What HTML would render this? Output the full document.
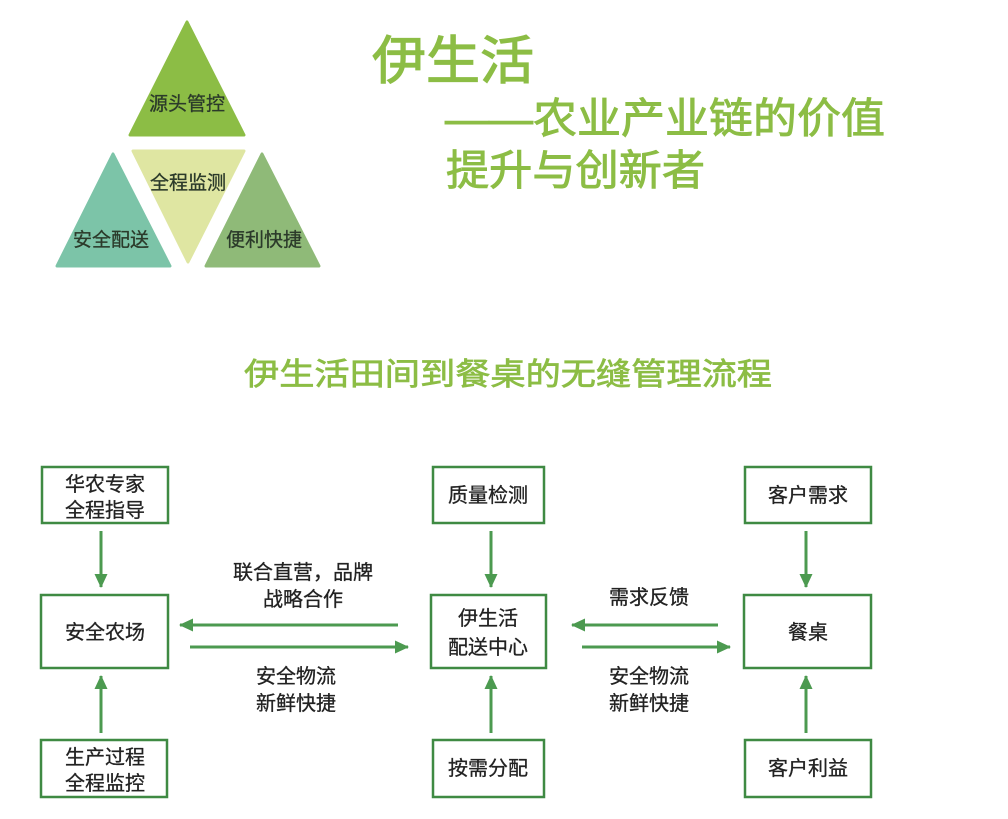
<!DOCTYPE html>
<html><head><meta charset="utf-8"><style>
html,body{margin:0;padding:0;background:#fff;}
svg{display:block;}
text{font-family:"Liberation Sans","Noto Sans CJK SC",sans-serif;}
</style></head><body>
<svg width="1008" height="819" viewBox="0 0 1008 819" xmlns="http://www.w3.org/2000/svg">
<defs>
<marker id="ah" markerWidth="14" markerHeight="14" refX="13" refY="7" orient="auto" markerUnits="userSpaceOnUse" viewBox="0 0 14 14">
<path d="M0,0.5 L14,7 L0,13.5 z" fill="#4c9a50"/></marker>
</defs>
<polygon points="187,22 244,135 130,135" fill="#8cbd45" stroke="#8cbd45" stroke-width="3" stroke-linejoin="round"/>
<polygon points="133,151 244,151 188,262" fill="#dfe6a2" stroke="#dfe6a2" stroke-width="3" stroke-linejoin="round"/>
<polygon points="113,154 170,266 57,266" fill="#7cc4a8" stroke="#7cc4a8" stroke-width="3" stroke-linejoin="round"/>
<polygon points="262,154 319,266 206,266" fill="#8fba78" stroke="#8fba78" stroke-width="3" stroke-linejoin="round"/>
<g font-size="19" fill="#2b3a2a" stroke="#2b3a2a" stroke-width="0.3">
<text x="187" y="110" text-anchor="middle">源头管控</text>
<text x="188" y="189" text-anchor="middle">全程监测</text>
<text x="111" y="246" text-anchor="middle">安全配送</text>
<text x="264" y="246" text-anchor="middle">便利快捷</text>
</g>
<g fill="#8cbd45" stroke="#8cbd45">
<text x="372" y="79" font-size="52" stroke-width="1.2" textLength="162" lengthAdjust="spacingAndGlyphs">伊生活</text>
<text x="445" y="133" font-size="42" stroke-width="0.9" textLength="440" lengthAdjust="spacingAndGlyphs">——农业产业链的价值</text>
<text x="446" y="185" font-size="42" stroke-width="0.9" textLength="259" lengthAdjust="spacingAndGlyphs">提升与创新者</text>
<text x="244" y="385" font-size="31" stroke-width="0.7" textLength="528" lengthAdjust="spacingAndGlyphs">伊生活田间到餐桌的无缝管理流程</text>
</g>
<g fill="none" stroke="#3f8a43" stroke-width="2.5">
<rect x="42" y="467" width="126" height="56"/>
<rect x="41" y="595" width="127" height="73"/>
<rect x="41" y="740" width="126" height="57"/>
<rect x="433" y="467" width="111" height="56"/>
<rect x="431" y="595" width="115" height="73"/>
<rect x="433" y="740" width="111" height="57"/>
<rect x="745" y="467" width="126" height="56"/>
<rect x="744" y="595" width="127" height="73"/>
<rect x="745" y="740" width="126" height="57"/>
</g>
<g font-size="20" fill="#222" stroke="#222" stroke-width="0.3" text-anchor="middle">
<text x="105" y="491">华农专家</text>
<text x="105" y="517">全程指导</text>
<text x="105" y="639">安全农场</text>
<text x="105" y="764">生产过程</text>
<text x="105" y="790">全程监控</text>
<text x="488" y="502">质量检测</text>
<text x="488" y="625">伊生活</text>
<text x="488" y="654">配送中心</text>
<text x="488" y="775">按需分配</text>
<text x="808" y="502">客户需求</text>
<text x="808" y="639">餐桌</text>
<text x="808" y="775">客户利益</text>
<text x="303" y="579">联合直营，品牌</text>
<text x="303" y="606">战略合作</text>
<text x="296" y="683">安全物流</text>
<text x="296" y="710">新鲜快捷</text>
<text x="649" y="604">需求反馈</text>
<text x="649" y="683">安全物流</text>
<text x="649" y="710">新鲜快捷</text>
</g>
<g stroke="#4c9a50" stroke-width="3" marker-end="url(#ah)">
<line x1="101" y1="531" x2="101" y2="587"/>
<line x1="101" y1="733" x2="101" y2="676"/>
<line x1="491" y1="531" x2="491" y2="587"/>
<line x1="491" y1="733" x2="491" y2="676"/>
<line x1="806" y1="531" x2="806" y2="587"/>
<line x1="806" y1="733" x2="806" y2="676"/>
<line x1="398" y1="625" x2="180" y2="625"/>
<line x1="190" y1="647" x2="408" y2="647"/>
<line x1="718" y1="625" x2="572" y2="625"/>
<line x1="582" y1="647" x2="730" y2="647"/>
</g>
</svg>
</body></html>
